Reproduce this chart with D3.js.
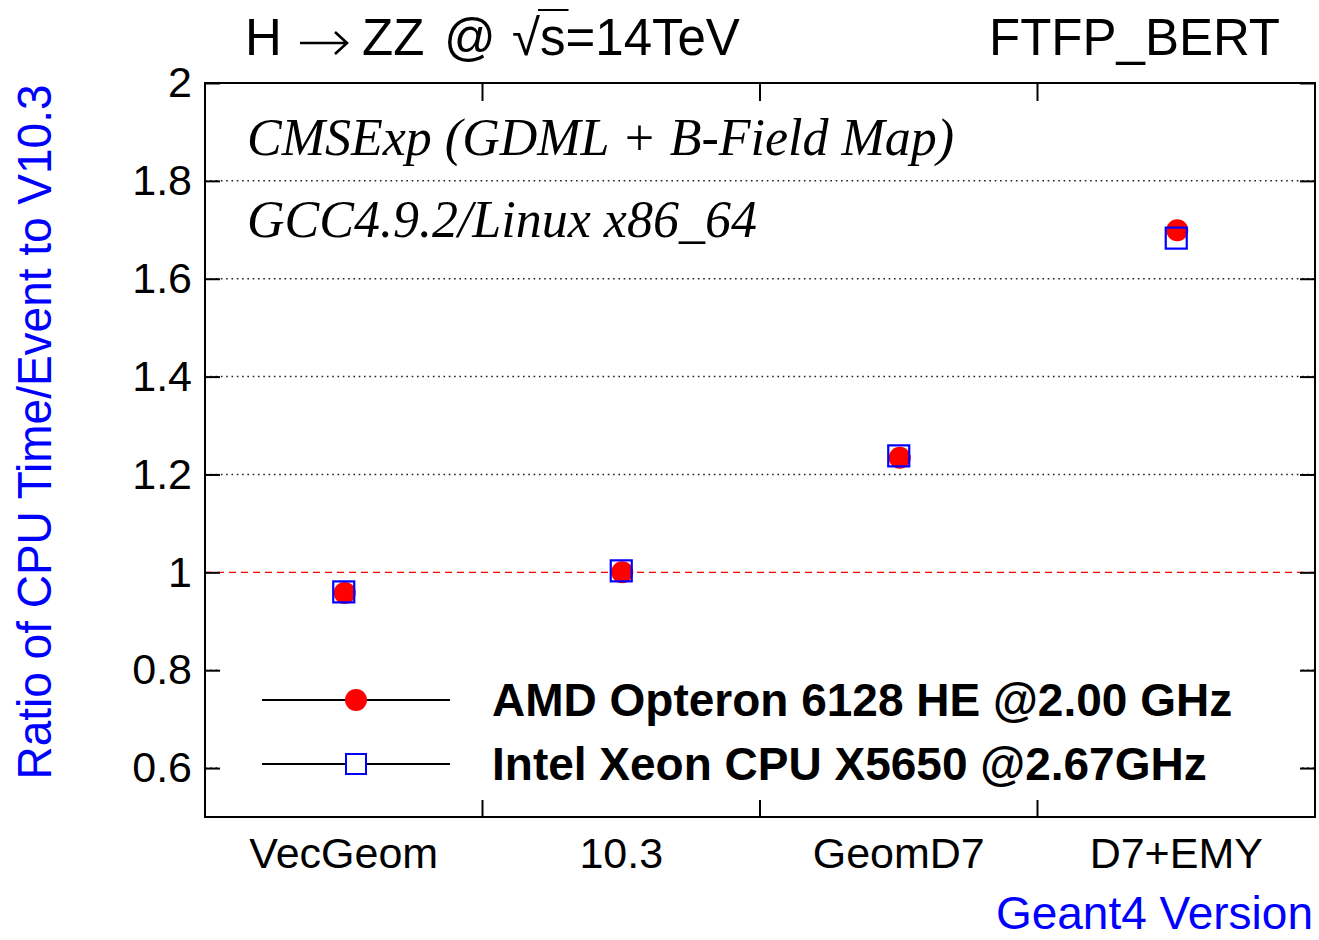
<!DOCTYPE html>
<html lang="en">
<head>
    <meta charset="UTF-8">
    <title>CPU Time Ratio vs Geant4 Version</title>
    <script src="https://d3js.org/d3.v7.min.js"></script>
    <style>
        body { margin: 0; background: #fff; }
        svg { display: block; }
        text { font-family: "Liberation Sans", Arial, sans-serif; }
        .serif { font-family: "Liberation Serif", "Times New Roman", serif; font-style: italic; }
    </style>
</head>
<body>
<svg id="chart"></svg>
<script>
    // data
    const categories = ["VecGeom", "10.3", "GeomD7", "D7+EMY"];
    const amdValues = [0.958, 1.0, 1.234, 1.699];
    const intelValues = [0.960, 1.003, 1.238, 1.683];
    const yTicks = [0.6, 0.8, 1, 1.2, 1.4, 1.6, 1.8, 2];
    const seriesNames = ["AMD Opteron 6128 HE @2.00 GHz", "Intel Xeon CPU X5650 @2.67GHz"];

    const width = 1319, height = 940;
    const margin = {left: 205, right: 4, top: 83, bottom: 123};

    const svg = d3.select("#chart")
        .attr("width", width)
        .attr("height", height);

    const x = d3.scaleBand()
        .domain(categories)
        .range([margin.left, width - margin.right]);

    const y = d3.scaleLinear()
        .domain([0.5, 2])
        .range([height - margin.bottom, margin.top]);

    const x0 = margin.left, x1 = width - margin.right;
    const y0 = height - margin.bottom, y1 = margin.top;

    // dotted grid
    svg.append("g")
        .selectAll("line")
        .data(yTicks.filter(d => d !== 1 && d !== 2))
        .enter().append("line")
        .attr("x1", x0).attr("x2", x1)
        .attr("y1", d => y(d)).attr("y2", d => y(d))
        .attr("stroke", "#222")
        .attr("stroke-width", 1.5)
        .attr("stroke-dasharray", "1.6,3.7");

    // reference line at 1
    svg.append("line")
        .attr("x1", x0).attr("x2", x1)
        .attr("y1", y(1)).attr("y2", y(1))
        .attr("stroke", "#ff0000")
        .attr("stroke-width", 1.3)
        .attr("stroke-dasharray", "7,5");

    // left axis
    svg.append("g")
        .attr("transform", `translate(${x0},0)`)
        .call(d3.axisLeft(y).tickValues(yTicks).tickSize(-15).tickPadding(13).tickFormat(d3.format("")))
        .call(g => g.select(".domain").remove())
        .call(g => g.selectAll("line").attr("stroke", "#000").attr("stroke-width", 2))
        .call(g => g.selectAll("text").attr("font-size", 43).attr("fill", "#000")
            .attr("font-family", "Liberation Sans, Arial, sans-serif"));

    // right axis ticks
    svg.append("g")
        .attr("transform", `translate(${x1},0)`)
        .call(d3.axisRight(y).tickValues(yTicks).tickSize(-15).tickFormat(""))
        .call(g => g.select(".domain").remove())
        .call(g => g.selectAll("line").attr("stroke", "#000").attr("stroke-width", 2));

    // bottom labels
    svg.append("g")
        .attr("transform", `translate(0,${y0})`)
        .call(d3.axisBottom(x).tickSize(0))
        .call(g => g.select(".domain").remove())
        .call(g => g.selectAll("text").attr("y", 51).attr("dy", null)
            .attr("font-size", 43).attr("fill", "#000")
            .attr("font-family", "Liberation Sans, Arial, sans-serif"));

    // bin edge ticks, bottom and top
    const edges = categories.slice(1).map(c => x(c));
    svg.append("g").selectAll("line")
        .data(edges)
        .enter().append("line")
        .attr("x1", d => d).attr("x2", d => d)
        .attr("y1", y0).attr("y2", y0 - 18)
        .attr("stroke", "#000").attr("stroke-width", 2);
    svg.append("g").selectAll("line")
        .data(edges)
        .enter().append("line")
        .attr("x1", d => d).attr("x2", d => d)
        .attr("y1", y1).attr("y2", y1 + 18)
        .attr("stroke", "#000").attr("stroke-width", 2);

    // legend background covers grid
    svg.append("rect")
        .attr("x", x0 + 16).attr("y", 640)
        .attr("width", x1 - x0 - 32).attr("height", 160)
        .attr("fill", "#fff");

    // frame
    svg.append("rect")
        .attr("x", x0).attr("y", y1)
        .attr("width", x1 - x0).attr("height", y0 - y1)
        .attr("fill", "none")
        .attr("stroke", "#000")
        .attr("stroke-width", 2);

    const cx = d => x(d) + x.bandwidth() / 2;

    // AMD circles
    svg.append("g").selectAll("circle")
        .data(categories)
        .enter().append("circle")
        .attr("cx", (d, i) => cx(d) + 1)
        .attr("cy", (d, i) => y(amdValues[i]))
        .attr("r", 11)
        .attr("fill", "#ff0000");

    // Intel squares
    const sq = 21;
    svg.append("g").selectAll("rect")
        .data(categories)
        .enter().append("rect")
        .attr("x", (d, i) => cx(d) - sq / 2)
        .attr("y", (d, i) => y(intelValues[i]) - sq / 2)
        .attr("width", sq).attr("height", sq)
        .attr("fill", "none")
        .attr("stroke", "#0000ff")
        .attr("stroke-width", 2.2);

    // legend
    const legendRows = [700, 764];
    const leg = svg.append("g");
    seriesNames.forEach((name, i) => {
        const ry = legendRows[i];
        leg.append("line")
            .attr("x1", 262).attr("x2", 450)
            .attr("y1", ry).attr("y2", ry)
            .attr("stroke", "#000").attr("stroke-width", 2);
        if (i === 0) {
            leg.append("circle").attr("cx", 356).attr("cy", ry).attr("r", 11).attr("fill", "#ff0000");
        } else {
            leg.append("rect").attr("x", 356 - 10).attr("y", ry - 10).attr("width", 20).attr("height", 20)
                .attr("fill", "#fff").attr("stroke", "#0000ff").attr("stroke-width", 2);
        }
        leg.append("text")
            .attr("x", 492).attr("y", ry + 16)
            .attr("font-size", 46).attr("font-weight", "bold")
            .text(name);
    });

    // italic annotations
    svg.append("text").attr("class", "serif")
        .attr("x", 247).attr("y", 155).attr("font-size", 52)
        .text("CMSExp (GDML + B-Field Map)");
    svg.append("text").attr("class", "serif")
        .attr("x", 247).attr("y", 237).attr("font-size", 52)
        .text("GCC4.9.2/Linux x86_64");

    // title: H -> ZZ @ sqrt(s)=14TeV, pieces placed like the ROOT latex
    const title = svg.append("g").attr("font-size", 51);
    title.append("text").attr("x", 245).attr("y", 55).text("H");
    // long thin arrow
    title.append("path")
        .attr("d", "M300,43 L346,43 M335,32 L347,43 L335,54")
        .attr("fill", "none")
        .attr("stroke", "#000")
        .attr("stroke-width", 2.6);
    title.append("text").attr("x", 362).attr("y", 55).text("ZZ");
    title.append("text").attr("x", 444).attr("y", 55).text("@");
    const rad = title.append("text").attr("x", 512).attr("y", 55).text("\u221A");
    const radEnd = 512 + rad.node().getComputedTextLength();
    const sPart = title.append("text").attr("x", radEnd).attr("y", 55).text("s");
    const sEnd = radEnd + sPart.node().getComputedTextLength();
    title.append("text").attr("x", sEnd).attr("y", 55).text("=14TeV");
    title.append("line")
        .attr("x1", radEnd - 2).attr("x2", sEnd + 3)
        .attr("y1", 10).attr("y2", 10)
        .attr("stroke", "#000").attr("stroke-width", 2);

    svg.append("text")
        .attr("x", 1280).attr("y", 55).attr("font-size", 51)
        .attr("text-anchor", "end")
        .text("FTFP_BERT");

    // axis titles
    svg.append("text")
        .attr("transform", "translate(51,432) rotate(-90)")
        .attr("text-anchor", "middle")
        .attr("font-size", 48)
        .attr("fill", "#0000ff")
        .attr("textLength", 695)
        .attr("lengthAdjust", "spacingAndGlyphs")
        .text("Ratio of CPU Time/Event to V10.3");

    svg.append("text")
        .attr("x", 1313).attr("y", 929)
        .attr("text-anchor", "end")
        .attr("font-size", 46)
        .attr("fill", "#0000ff")
        .text("Geant4 Version");
</script>
</body>
</html>
